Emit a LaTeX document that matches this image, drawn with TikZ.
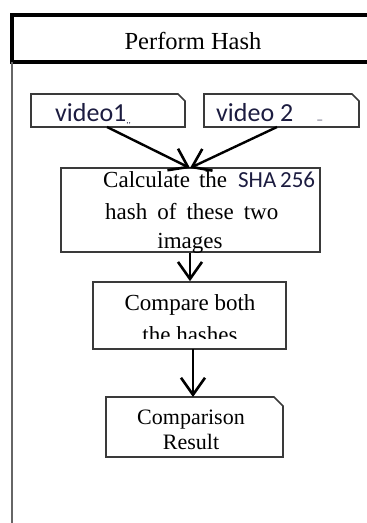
\documentclass[tikz,border=0pt]{standalone}
\usepackage{fontspec}
\setmainfont{Liberation Serif}
\newfontfamily\uisans{Carlito}
\usetikzlibrary{arrows.meta}
\definecolor{inkgray}{HTML}{3A3A3A}
\definecolor{navyink}{HTML}{1C1C40}
\begin{document}
\begin{tikzpicture}[x=1pt,y=-1pt,
  boxline/.style={draw=inkgray,line width=1.6pt},
  flowarrow/.style={line width=2.4pt,-{Straight Barb[length=17pt,width=24pt,line width=2.6pt]}},
  sanslabel/.style={font=\uisans\fontsize{26}{28}\selectfont,text=navyink},
  bodytext/.style={inner sep=0pt,font=\fontsize{23}{26}\selectfont}]
\useasboundingbox (0,0) rectangle (367,523);
\clip (0,0) rectangle (367,523);
% outer lane: heading band and left rail
\draw[line width=4pt] (12,15) -- (12,62) (10,15) -- (380,15) (10,62) -- (380,62);
\draw[draw=gray!80!black,line width=2.4pt] (12,62) -- (12,523);
\node (title) at (193,41) {\fontsize{24.5}{28}\selectfont Perform Hash};
% input documents with a clipped corner
\draw[boxline] (31,127) -- (31,94) -- (178,94) -- (185,101) -- (185,127) -- cycle;
\node[sanslabel,anchor=base west,inner sep=0pt] (v1) at (55,121) {video1\raisebox{-2pt}{\fontsize{9}{9}\selectfont ,,}};
\coordinate (v1out) at (107,127);
\draw[boxline] (204,127) -- (204,94) -- (352,94) -- (359,101) -- (359,127) -- cycle;
\node[sanslabel,anchor=base west,inner sep=0pt] (v2) at (216,121) {video 2\hspace{24pt}\raisebox{2pt}{\fontsize{10}{10}\selectfont \_}};
\coordinate (v2out) at (277,127);
% processing steps
\node[boxline,minimum width=259pt,minimum height=84pt,inner sep=0pt] (calc) at (190.5,210) {};
\node[bodytext,anchor=base west] (l1) at (103,187) {Calculate\hspace{9pt}the\hspace{11pt}{\uisans\color{navyink}SHA\,256}};
\node[bodytext,anchor=base west] (l2) at (105,219) {hash\hspace{10pt}of\hspace{10pt}these\hspace{10pt}two};
\node[bodytext,anchor=base] (l3) at (190,248) {images};
\node[boxline,minimum width=193pt,minimum height=67pt,inner sep=0pt] (cmp) at (189.5,315.5) {};
\node[bodytext,anchor=base] (c1) at (190,310) {Compare both};
\begin{scope}
  \clip (95,318) rectangle (284,338);
  \node[bodytext,anchor=base] (c2) at (190,342) {the hashes};
\end{scope}
% outcome document with a clipped corner
\draw[boxline] (106,457) -- (106,397) -- (274,397) -- (283,406) -- (283,457) -- cycle;
\coordinate (resin) at (193,397);
\node[align=center,font=\fontsize{22}{25}\selectfont] (res) at (191,430) {Comparison\\Result};
% connectors
\coordinate (join) at (190,168);
\draw[flowarrow] (v1out) -- (join);
\draw[flowarrow] (v2out) -- (join);
\draw[flowarrow] (calc.south -| join) -- (cmp.north -| join);
\draw[flowarrow] (193,349) -- (resin);
\end{tikzpicture}
\end{document}
